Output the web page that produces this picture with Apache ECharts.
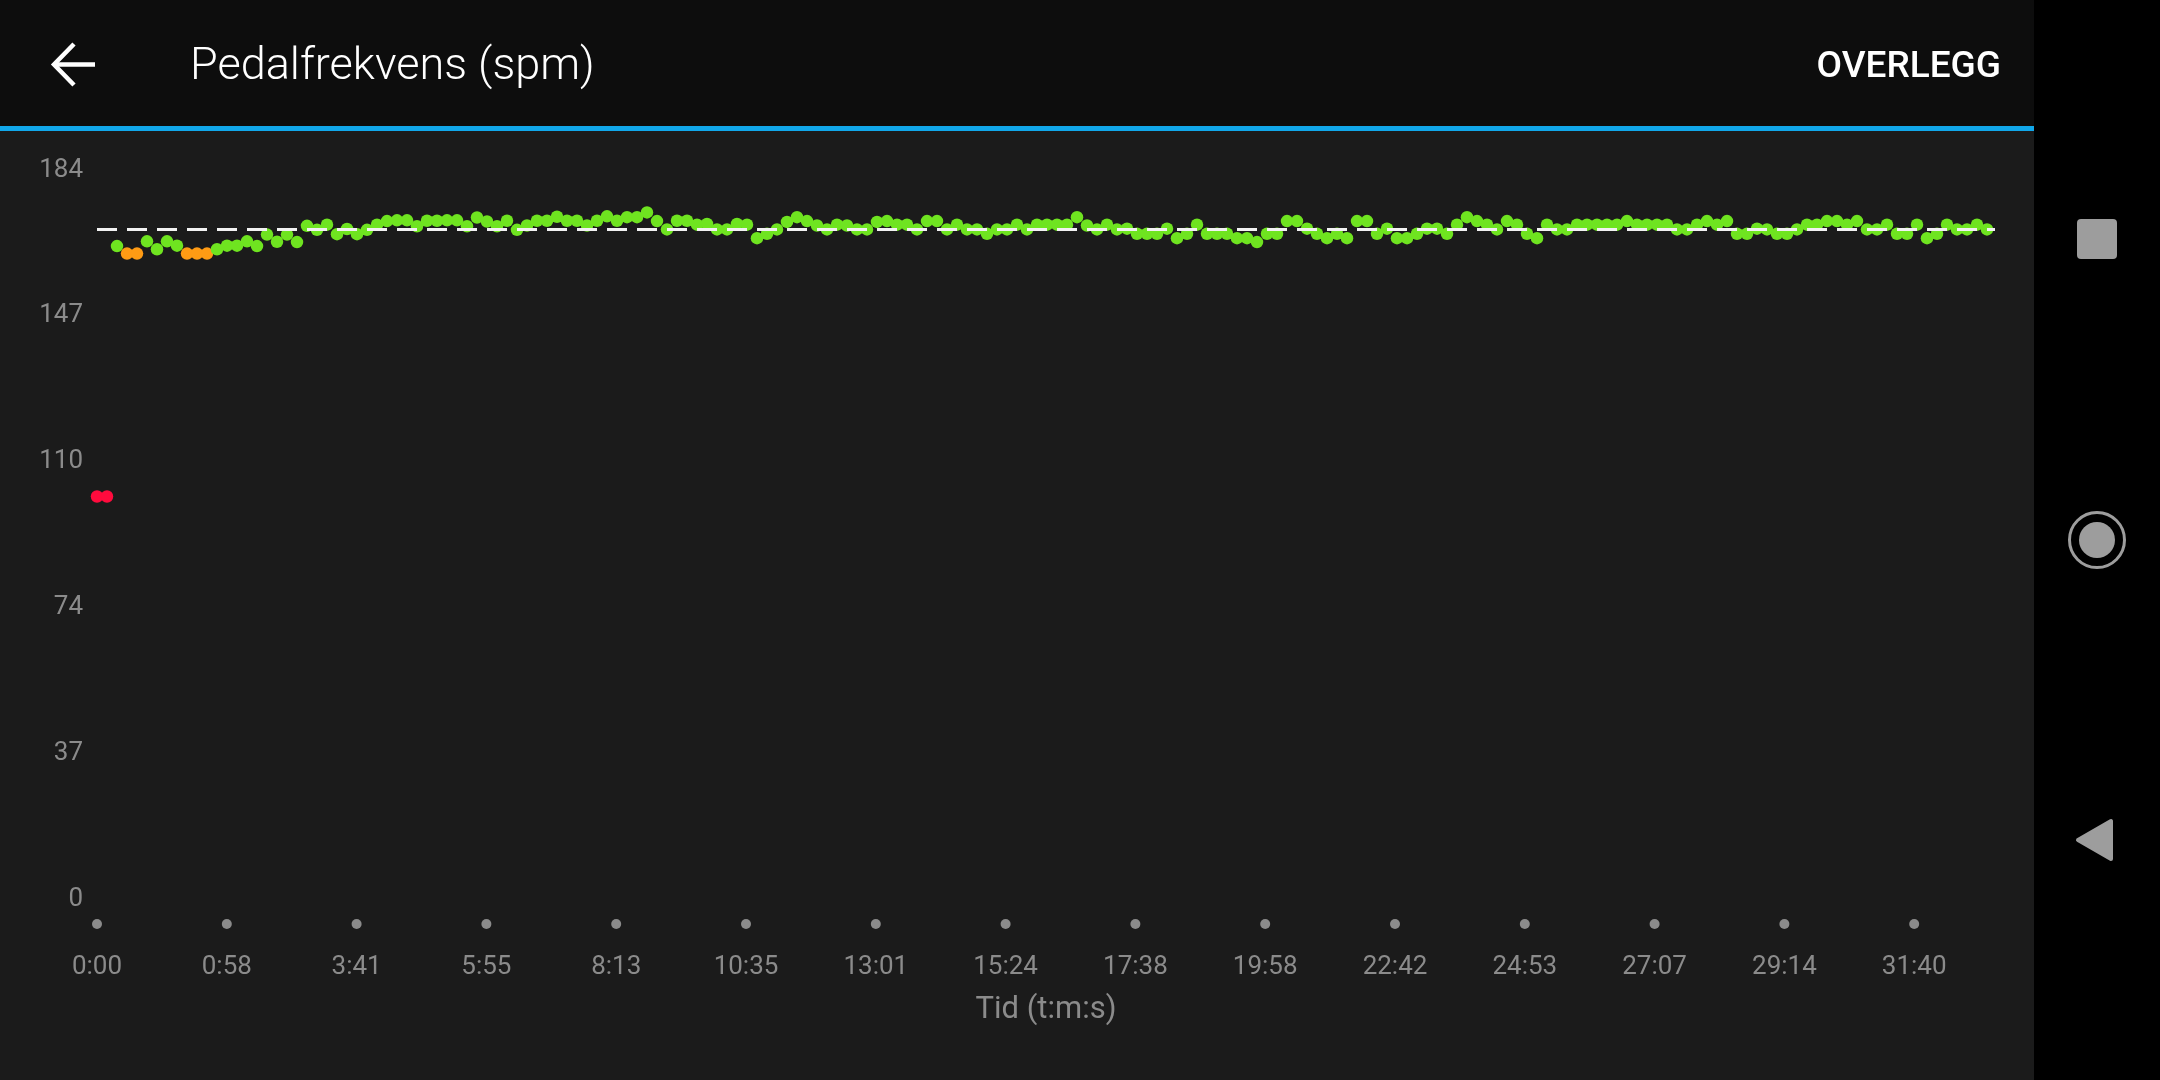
<!DOCTYPE html>
<html>
<head>
<meta charset="utf-8">
<script src="https://cdn.jsdelivr.net/npm/echarts@6/dist/echarts.min.js"></script>
<style>
html,body{margin:0;padding:0;background:#1b1b1b;}
#c{width:2160px;height:1080px;}
</style>
</head>
<body>
<div id="c"></div>
<script>
// ---- data ----
const titleText = 'Pedalfrekvens (spm)';
const actionText = 'OVERLEGG';
const xAxisName = 'Tid (t:m:s)';
const tickLabels = ['0:00','0:58','3:41','5:55','8:13','10:35','13:01','15:24','17:38','19:58','22:42','24:53','27:07','29:14','31:40'];
const avgCadence = 169;
const yMax = 184;
const yStep = 36.8;
const xStep = 12.98;    // samples between labelled ticks
const xMax = 189.8;     // samples visible
const cadence = [
 101.6,101.6,164.8,162.9,162.9,166.0,164.0,166.0,164.9,162.9,
 162.9,162.9,164.0,164.9,164.9,166.0,164.8,167.7,165.9,167.7,
 165.8,169.9,168.9,170.2,167.8,169.1,167.8,168.9,170.2,171.1,
 171.3,171.3,169.8,171.2,171.2,171.3,171.3,169.8,172.0,171.0,
 169.8,171.2,168.9,170.0,171.2,171.2,172.2,171.2,171.2,170.0,
 171.2,172.3,171.2,172.1,172.1,173.3,171.1,169.0,171.2,171.2,
 170.2,170.4,169.0,169.0,170.4,170.2,166.8,167.9,169.0,170.9,
 172.1,171.1,170.0,169.0,170.2,170.0,169.0,169.0,170.9,171.1,
 170.2,170.2,169.0,171.1,171.1,169.0,170.2,169.0,169.0,167.9,
 169.0,169.0,170.2,169.0,170.2,170.2,170.2,170.2,172.1,170.0,
 169.0,170.2,169.0,169.2,167.9,167.9,167.9,169.2,166.8,167.9,
 170.2,167.9,167.9,167.9,166.8,166.8,165.8,167.9,167.9,171.1,
 171.1,169.2,167.9,166.8,167.9,166.8,171.1,171.1,167.9,169.2,
 166.8,166.8,167.9,169.2,169.2,167.9,170.2,172.1,171.1,170.2,
 169.0,171.1,170.2,167.9,166.8,170.2,169.0,169.0,170.2,170.2,
 170.2,170.2,170.2,171.1,170.2,170.2,170.2,170.2,169.0,169.0,
 170.2,171.1,170.2,171.1,167.9,167.9,169.2,169.0,167.9,167.9,
 169.0,170.2,170.2,171.1,171.1,170.2,171.1,169.0,169.0,170.2,
 167.9,167.9,170.2,166.8,167.9,170.2,169.0,169.0,170.2,169.0
];

// ---- chart ----
const points = cadence.map((v, i) => [i, v]);
const gray = '#8b8b8b';
const iconGray = '#9d9d9d';
const font = 'Roboto, "Noto Sans", sans-serif';

const chart = echarts.init(document.getElementById('c'), null, {renderer: 'canvas'});
chart.setOption({
  animation: false,
  backgroundColor: '#1b1b1b',
  grid: {left: 97, right: 165, top: 170, bottom: 181, containLabel: false},
  xAxis: {
    type: 'value', min: 0, max: xMax, interval: xStep,
    axisLine: {show: false}, axisTick: {show: false}, splitLine: {show: false},
    showMaxLabel: false,
    name: xAxisName, nameLocation: 'middle', nameGap: 111,
    nameTextStyle: {color: gray, fontSize: 31, fontFamily: font, verticalAlign: 'middle'},
    axisLabel: {
      margin: 18,
      formatter: function (v) {
        const k = Math.round(v / xStep);
        if (Math.abs(v / xStep - k) > 0.01 || tickLabels[k] === undefined) return '';
        return '{d| }\n{t|' + tickLabels[k] + '}';
      },
      rich: {
        d: {width: 10, height: 10, borderRadius: 5, backgroundColor: gray, lineHeight: 14, fontSize: 1},
        t: {color: gray, fontSize: 26, fontFamily: font, lineHeight: 72}
      }
    }
  },
  yAxis: {
    type: 'value', min: 0, max: yMax, interval: yStep,
    axisLine: {show: false}, axisTick: {show: false}, splitLine: {show: false},
    axisLabel: {
      margin: 14, color: gray, fontSize: 26, fontFamily: font,
      padding: [3, 0, 0, 0],
      formatter: v => String(Math.round(v))
    }
  },
  visualMap: {
    show: false, type: 'piecewise', dimension: 1, seriesIndex: 0,
    pieces: [
      {lt: 153, color: '#ff0b3d'},
      {gte: 153, lt: 164, color: '#ff9b14'},
      {gte: 164, color: '#6fe420'}
    ]
  },
  series: [
    {
      type: 'scatter', data: points, symbol: 'circle', symbolSize: 12.5,
      itemStyle: {opacity: 1}, silent: true, z: 2
    },
    {
      type: 'line', data: [[0, avgCadence], [xMax, avgCadence]],
      symbol: 'none', silent: true, z: 3,
      lineStyle: {color: '#f2f2f2', width: 3, type: [20, 10]}
    }
  ],
  graphic: [
    {type: 'rect', left: 0, top: 0, shape: {width: 2034, height: 126}, style: {fill: '#0d0d0d'}, silent: true},
    {type: 'rect', left: 0, top: 126, shape: {width: 2034, height: 5}, style: {fill: '#11a7ea'}, silent: true},
    {type: 'rect', left: 2034, top: 0, shape: {width: 126, height: 1080}, style: {fill: '#000000'}, silent: true},
    {type: 'polyline', shape: {points: [[95, 64.5], [56, 64.5]]}, style: {stroke: '#ffffff', lineWidth: 4.5, fill: null}, silent: true},
    {type: 'polyline', shape: {points: [[74, 44], [54, 64.5], [74, 85]]}, style: {stroke: '#ffffff', lineWidth: 4.5, fill: null, lineJoin: 'miter'}, silent: true},
    {type: 'text', x: 190, y: 68, style: {text: titleText, fill: '#ffffff', font: '300 45px Roboto, "Noto Sans", sans-serif', textVerticalAlign: 'middle'}, silent: true},
    {type: 'text', x: 2001, y: 68, style: {text: actionText, fill: '#ffffff', font: '500 37px Roboto, "Noto Sans", sans-serif', textAlign: 'right', textVerticalAlign: 'middle'}, silent: true},
    {type: 'rect', shape: {x: 2077, y: 219, width: 40, height: 40, r: 4}, style: {fill: iconGray}, silent: true},
    {type: 'circle', shape: {cx: 2097, cy: 540, r: 27.5}, style: {stroke: iconGray, lineWidth: 3, fill: null}, silent: true},
    {type: 'circle', shape: {cx: 2097, cy: 540, r: 18}, style: {fill: iconGray}, silent: true},
    {type: 'polygon', shape: {points: [[2078, 840], [2111, 821], [2111, 859]]}, style: {fill: iconGray, stroke: iconGray, lineWidth: 4, lineJoin: 'round'}, silent: true}
  ]
});
</script>
</body>
</html>
